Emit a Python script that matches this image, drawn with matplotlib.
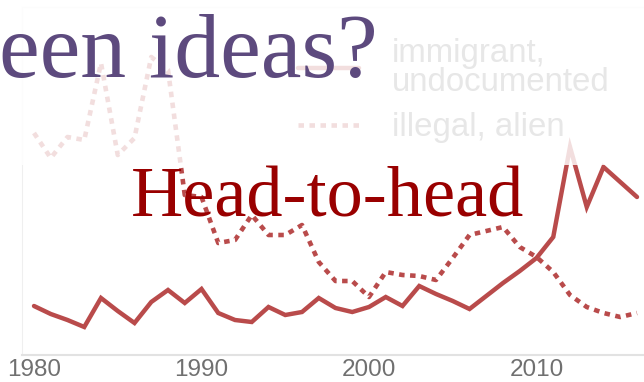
import matplotlib
matplotlib.use("Agg")
import matplotlib.pyplot as plt
from matplotlib.patches import Rectangle

years = list(range(1980, 2017))
immigrant_undocumented = [49, 41, 35, 28, 57, 44, 32, 53, 65, 52, 66, 42, 35, 33, 48, 40, 43, 57, 47, 43,
                          48, 58, 49, 69, 61, 54, 46, 59, 72, 84, 97, 118, 208, 148, 188, 173, 158]
illegal_alien = [222, 197, 218, 215, 292, 200, 217, 298, 285, 160, 158, 112, 115, 140, 120, 120, 130, 93, 74, 74,
                 58, 83, 80, 79, 75, 97, 120, 124, 128, 108, 98, 83, 60, 48, 42, 38, 42]
tick_years = [1980, 1990, 2000, 2010]
series_labels = ["immigrant,\nundocumented", "illegal, alien"]
title_text = "een ideas?"
subtitle_text = "Head-to-head"

W, H = 644, 382
fig = plt.figure(figsize=(W / 100, H / 100), dpi=100)
fig.patch.set_facecolor("white")

ax = fig.add_axes([22 / W, 1 - 355 / H, 1 - 22 / W, (355 - 7) / H])
ax.set_facecolor("white")
line_color = "#b94b4b"
ax.plot(years, immigrant_undocumented, color=line_color, lw=3.2, solid_capstyle="round",
        solid_joinstyle="miter", label=series_labels[0])
ax.plot(years, illegal_alien, color=line_color, lw=3.3, linestyle=(0, (1.2, 1.2)),
        dash_capstyle="butt", label=series_labels[1])

ax.set_xlim(1980 - 12 / 16.75, 1980 + 610 / 16.75)
ax.set_ylim(0, 348)
ax.set_xticks(tick_years)
ax.set_xticklabels([str(t) for t in tick_years], fontfamily="Liberation Sans", fontsize=17.5, color="#707070")
ax.set_yticks([])
ax.tick_params(axis="x", length=0, pad=3)
for s in ["left", "top"]:
    ax.spines[s].set_color("#efefef")
    ax.spines[s].set_linewidth(0.8)
ax.spines["right"].set_visible(False)
ax.spines["bottom"].set_color("#e2e2e2")
ax.spines["bottom"].set_linewidth(1.5)

leg = ax.legend(loc="upper left", bbox_to_anchor=(298 / W, 1 - 38 / H), bbox_transform=fig.transFigure,
                frameon=False, prop={"family": "Liberation Sans", "size": 23.8},
                handlelength=1.85, handletextpad=1.0, labelspacing=0.45, borderpad=0, borderaxespad=0)
for t in leg.get_texts():
    t.set_color("#7c7c7c")
    t.set_linespacing(0.9)

overlay = Rectangle((0, 1 - 165 / H), 1, 165 / H, transform=fig.transFigure, facecolor="white",
                    alpha=0.82, edgecolor="none", zorder=5)
fig.patches.append(overlay)

fig.text(378 / W, 1 - 77 / H, title_text, ha="right", va="baseline", fontfamily="Liberation Serif",
         fontsize=66, color="#5d4a7e", zorder=10)
fig.text(131 / W, 1 - 216 / H, subtitle_text, ha="left", va="baseline", fontfamily="Liberation Serif",
         fontsize=52, color="#990000", zorder=10)

fig.savefig("out.png", dpi=100)
